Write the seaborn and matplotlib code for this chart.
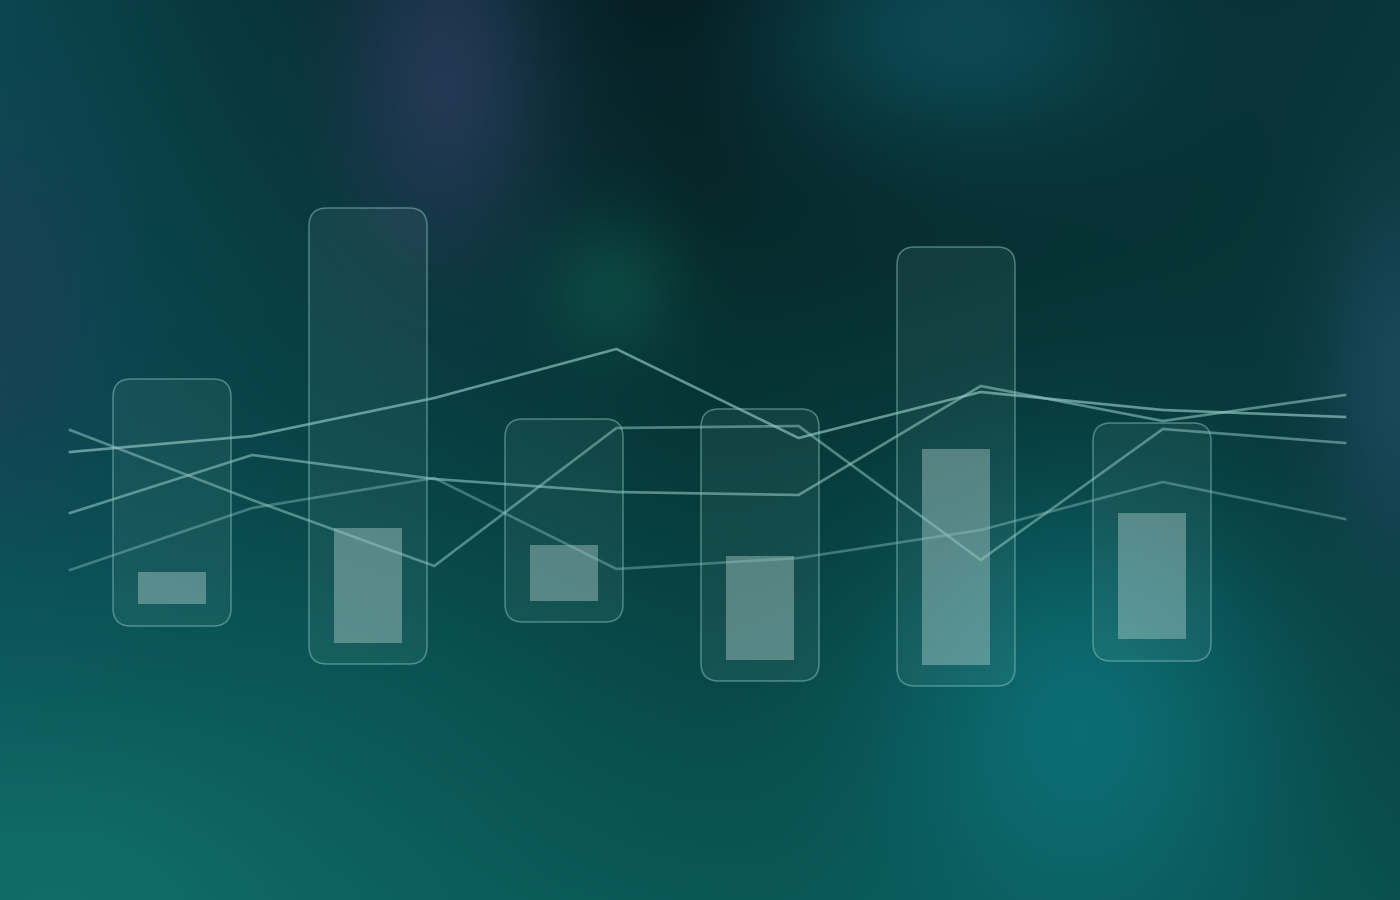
import numpy as np
import pandas as pd
import matplotlib
matplotlib.use("Agg")
import matplotlib.pyplot as plt
import seaborn as sns
from matplotlib.patches import FancyBboxPatch

#------ data (heights measured from the bottom of the canvas) ------
categories = ["A", "B", "C", "D", "E", "F"]
box_top = [521, 692, 481, 491, 653, 477]
box_bottom = [274, 236, 278, 219, 214, 239]
bar_top = [328, 372, 355, 344, 451, 387]
bar_bottom = [296, 257, 299, 240, 235, 261]

steps = [0, 1, 2, 3, 4, 5, 6, 7]
line_a = [448, 464, 502, 551, 462, 508, 490, 483]
line_b = [470, 400, 334, 472, 474, 340, 471, 457]
line_c = [387, 445, 421, 408, 405, 514, 479, 505]
line_d = [330, 392, 422, 331, 342, 370, 418, 381]

W, H = 1400, 900

#------ background: soft gradient + blurred blobs ------
def rgb(h):
    return np.array(matplotlib.colors.to_rgb(h))

grid = [["#0b464e", "#05191d", "#0a3639"],
        ["#0a4c54", "#073838", "#083739"],
        ["#0e6462", "#0a5856", "#0b4f4e"]]
xs = np.linspace(0, 1, W)
ys = np.linspace(0, 1, H)
rows = []
for r in grid:
    cols = np.array([rgb(c) for c in r])
    rows.append(np.stack([np.interp(xs, [0, 0.5, 1], cols[:, k]) for k in range(3)], axis=-1))
rows = np.array(rows)  # 3 x W x 3
img = np.zeros((H, W, 3))
for k in range(3):
    for j in range(W):
        img[:, j, k] = np.interp(ys, [0, 0.5, 1], rows[:, j, k])

yy, xx = np.mgrid[0:H, 0:W]
blobs = [
    (445, 80, 70, 120, "#283a5a", 0.85),
    (0, 310, 70, 130, "#213c58", 0.6),
    (960, 30, 140, 90, "#0d4c57", 0.9),
    (610, 290, 50, 50, "#10554b", 0.6),
    (1080, 730, 140, 160, "#0c7077", 0.9),
    (100, 890, 170, 110, "#12716a", 0.75),
    (1400, 380, 55, 130, "#1d4a60", 0.85),
    (320, 760, 160, 140, "#0c5e5e", 0.4),
]
for cx, cy, sx, sy, col, a in blobs:
    g = np.exp(-0.5 * (((xx - cx) / sx) ** 2 + ((yy - cy) / sy) ** 2)) * a
    img = img * (1 - g[..., None]) + rgb(col) * g[..., None]

fig = plt.figure(figsize=(14, 9), dpi=100)
ax_bg = fig.add_axes([0, 0, 1, 1])
ax_bg.imshow(img, extent=[0, 1, 0, 1], aspect="auto", interpolation="bilinear")
ax_bg.set_axis_off()

#------ bars: rounded outer boxes + inner solid bars ------
ax = fig.add_axes([0, 0, 1, 1])
ax.patch.set_alpha(0)
bdf = pd.DataFrame({"cat": categories, "box_top": box_top, "bar_top": bar_top})

px_per_cat = 196.0
radius = 18.0

sns.barplot(data=bdf, x="cat", y="box_top", width=118 / px_per_cat, color="#a8d6d2", ax=ax)
boxes = list(ax.patches)
for p, b in zip(boxes, box_bottom):
    x0, w, top = p.get_x(), p.get_width(), p.get_height()
    p.remove()
    ax.add_patch(FancyBboxPatch((x0, b), w, top - b,
                                boxstyle=f"round,pad=0,rounding_size={radius / px_per_cat}",
                                mutation_aspect=px_per_cat,
                                facecolor=(0.65, 0.85, 0.83, 0.08),
                                edgecolor=(0.55, 0.78, 0.76, 0.5), linewidth=1.1, zorder=2))

n0 = len(ax.patches)
sns.barplot(data=bdf, x="cat", y="bar_top", width=68 / px_per_cat, color="#c2e2de", ax=ax)
for p, b in zip(ax.patches[n0:], bar_bottom):
    p.set_y(b)
    p.set_height(p.get_height() - b)
    p.set_alpha(0.38)
    p.set_edgecolor("none")
    p.set_zorder(3)

ax.set_xlim(-172 / px_per_cat, (W - 172) / px_per_cat)
ax.set_ylim(0, H)
ax.set_axis_off()

#------ lines ------
ax2 = fig.add_axes([0, 0, 1, 1])
ax2.patch.set_alpha(0)
ldf = pd.DataFrame({
    "step": steps * 4,
    "value": line_a + line_b + line_c + line_d,
    "series": ["a"] * 8 + ["b"] * 8 + ["c"] * 8 + ["d"] * 8,
})
line_col = "#8fc4c2"
sns.lineplot(data=ldf, x="step", y="value", hue="series",
             palette={"a": line_col, "b": line_col, "c": line_col, "d": line_col},
             linewidth=1.9, legend=False, ax=ax2)
for ln, a in zip(ax2.lines, [0.68, 0.55, 0.6, 0.42]):
    ln.set_alpha(a)
    ln.set_solid_joinstyle("miter")

step_px = (1345 - 70) / 7
ax2.set_xlim(-70 / step_px, (W - 70) / step_px)
ax2.set_ylim(0, H)
ax2.set_axis_off()

fig.savefig("out.png", dpi=100)
